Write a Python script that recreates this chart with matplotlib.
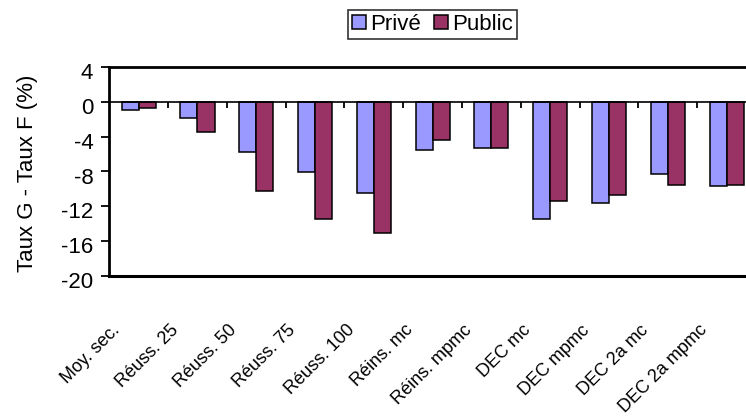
import matplotlib
matplotlib.use("Agg")
import matplotlib.pyplot as plt
from matplotlib.transforms import ScaledTranslation
import numpy as np

plt.rcParams['font.family'] = ['Liberation Sans', 'DejaVu Sans']

categories = ["Moy. sec.", "Réuss. 25", "Réuss. 50", "Réuss. 75", "Réuss. 100",
              "Réins. mc", "Réins. mpmc", "DEC mc", "DEC mpmc", "DEC 2a mc", "DEC 2a mpmc"]
prive = [-0.9, -1.8, -5.8, -8.1, -10.5, -5.5, -5.3, -13.5, -11.6, -8.3, -9.7]
public = [-0.7, -3.5, -10.3, -13.5, -15.1, -4.4, -5.3, -11.4, -10.7, -9.5, -9.5]
yticks = [4, 0, -4, -8, -12, -16, -20]

fig = plt.figure(figsize=(7.46, 4.19), dpi=100)
ax = fig.add_axes([109.3/746, 1 - 275.7/419, 646.7/746, (275.7 - 67.3)/419])

x = np.arange(len(categories))
w = 0.29
ax.bar(x - w/2, prive, w, color="#9999FF", edgecolor="black", linewidth=1.1, label="Privé", zorder=2)
ax.bar(x + w/2, public, w, color="#993366", edgecolor="black", linewidth=1.1, label="Public", zorder=2)

ax.set_xlim(-0.5, len(categories) - 0.5)
ax.set_ylim(-20, 4)
ax.set_yticks(yticks)
ax.set_yticklabels([str(v) for v in yticks], fontsize=16)
ax.tick_params(axis='y', direction='out', length=5.5, width=1.3, pad=6)
for lab in ax.get_yticklabels():
    lab.set_transform(lab.get_transform() + ScaledTranslation(0, -3/72, fig.dpi_scale_trans))

# x-axis at zero with boundary ticks
ax.spines['bottom'].set_position(('data', 0))
ax.spines['bottom'].set_linewidth(1.2)
ax.set_xticks(np.arange(len(categories) - 1) + 0.5)
ax.set_xticklabels([])
ax.tick_params(axis='x', direction='out', length=4.5, width=1.3)
ax.axhline(-20, color="black", linewidth=2.2, clip_on=False, zorder=3)
for s in ['left', 'top', 'right']:
    ax.spines[s].set_linewidth(2)

for i, lab in enumerate(categories):
    ax.annotate(lab, xy=(i, -20), xycoords='data', xytext=(-20, -33), textcoords='offset points',
                ha='right', va='top', rotation=45, rotation_mode='anchor', fontsize=13)

ax.set_ylabel("Taux G - Taux F (%)", fontsize=16)
ax.yaxis.set_label_coords(-0.111, 0.49)

leg = fig.legend(loc='center', bbox_to_anchor=(432.5/746, 1 - 24.5/419), ncol=2, fontsize=16,
                 frameon=True, fancybox=False, edgecolor='black', handlelength=0.63,
                 handleheight=0.63, handletextpad=0.2, columnspacing=0.55, borderpad=0.2,
                 borderaxespad=0)
leg.get_frame().set_linewidth(1.2)

fig.savefig("out.png", dpi=100)
